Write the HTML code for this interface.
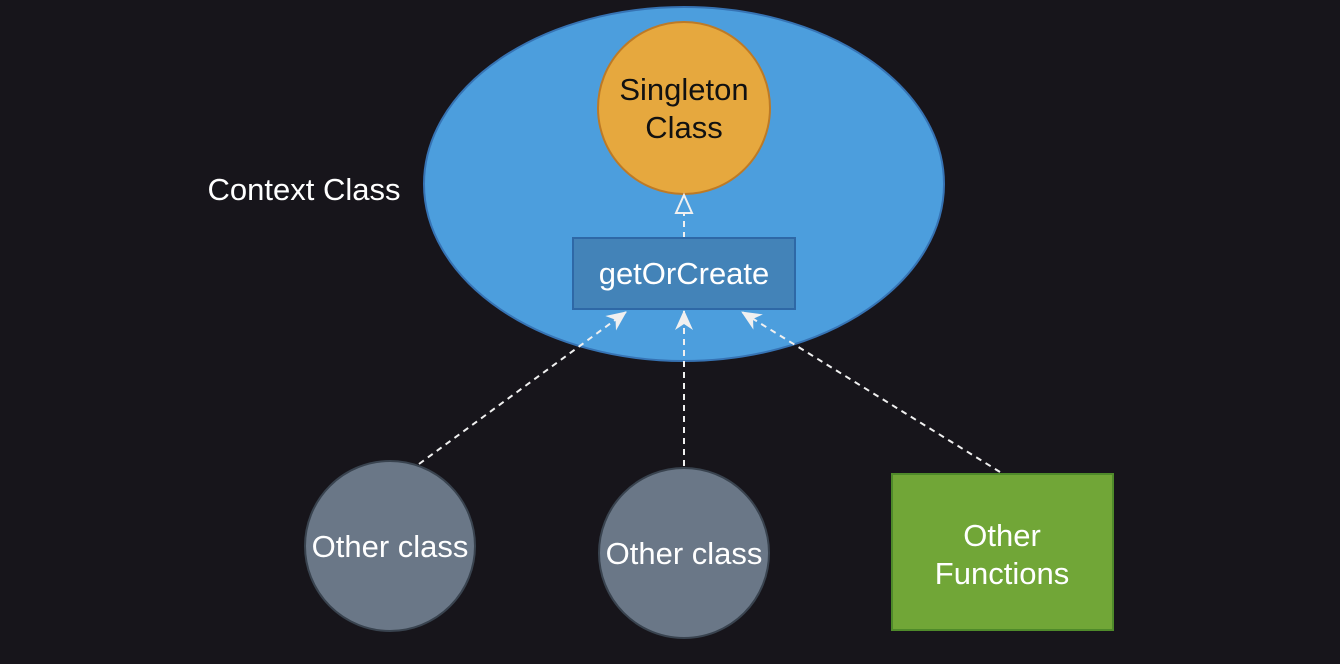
<!DOCTYPE html>
<html><head><style>
html,body{margin:0;padding:0;background:#17151b;}
svg{display:block;}
</style></head><body>
<svg width="1340" height="664" viewBox="0 0 1340 664" xmlns="http://www.w3.org/2000/svg" font-family="'Liberation Sans', Arial, sans-serif">
<rect width="1340" height="664" fill="#17151b"/>
<defs>
<marker id="a" markerWidth="22" markerHeight="22" refX="19" refY="11" orient="auto" markerUnits="userSpaceOnUse">
<path d="M0,2 L20,11 L0,20 L6,11 Z" fill="#f0f0f0"/>
</marker>
</defs>
<ellipse cx="684" cy="184" rx="260" ry="177" fill="#4c9edd" stroke="#3673b4" stroke-width="2"/>
<circle cx="684" cy="108" r="86" fill="#e6a83e" stroke="#bd7a26" stroke-width="2"/>
<g font-family="'Liberation Sans', Arial, sans-serif" font-size="31">
<text x="684" y="100" text-anchor="middle" fill="#111">Singleton</text>
<text x="684" y="138" text-anchor="middle" fill="#111">Class</text>
<text x="304" y="200" text-anchor="middle" fill="#fff">Context Class</text>
</g>
<line x1="684" y1="238" x2="684" y2="214" stroke="#f0f0f0" stroke-width="2" stroke-dasharray="6,5"/>
<path d="M684,195 L692,213 L676,213 Z" fill="#4c9edd" stroke="#f0f0f0" stroke-width="2"/>
<rect x="573" y="238" width="222" height="71" fill="#4383b8" stroke="#2e68a6" stroke-width="2"/>
<line x1="419" y1="464" x2="626" y2="312" stroke="#f0f0f0" stroke-width="2" stroke-dasharray="6,5" marker-end="url(#a)"/>
<line x1="684" y1="466" x2="684" y2="311" stroke="#f0f0f0" stroke-width="2" stroke-dasharray="6,5" marker-end="url(#a)"/>
<line x1="1000" y1="472" x2="742" y2="312" stroke="#f0f0f0" stroke-width="2" stroke-dasharray="6,5" marker-end="url(#a)"/>
<circle cx="390" cy="546" r="85" fill="#6a7787" stroke="#39434f" stroke-width="2"/>
<circle cx="684" cy="553" r="85" fill="#6a7787" stroke="#39434f" stroke-width="2"/>
<rect x="892" y="474" width="221" height="156" fill="#71a637" stroke="#4f8a2a" stroke-width="2"/>
<g font-family="'Liberation Sans', Arial, sans-serif" font-size="31" fill="#fff" text-anchor="middle">
<text x="684" y="284">getOrCreate</text>
<text x="390" y="557">Other class</text>
<text x="684" y="564">Other class</text>
<text x="1002" y="546">Other</text>
<text x="1002" y="584">Functions</text>
</g>
</svg>
</body></html>
